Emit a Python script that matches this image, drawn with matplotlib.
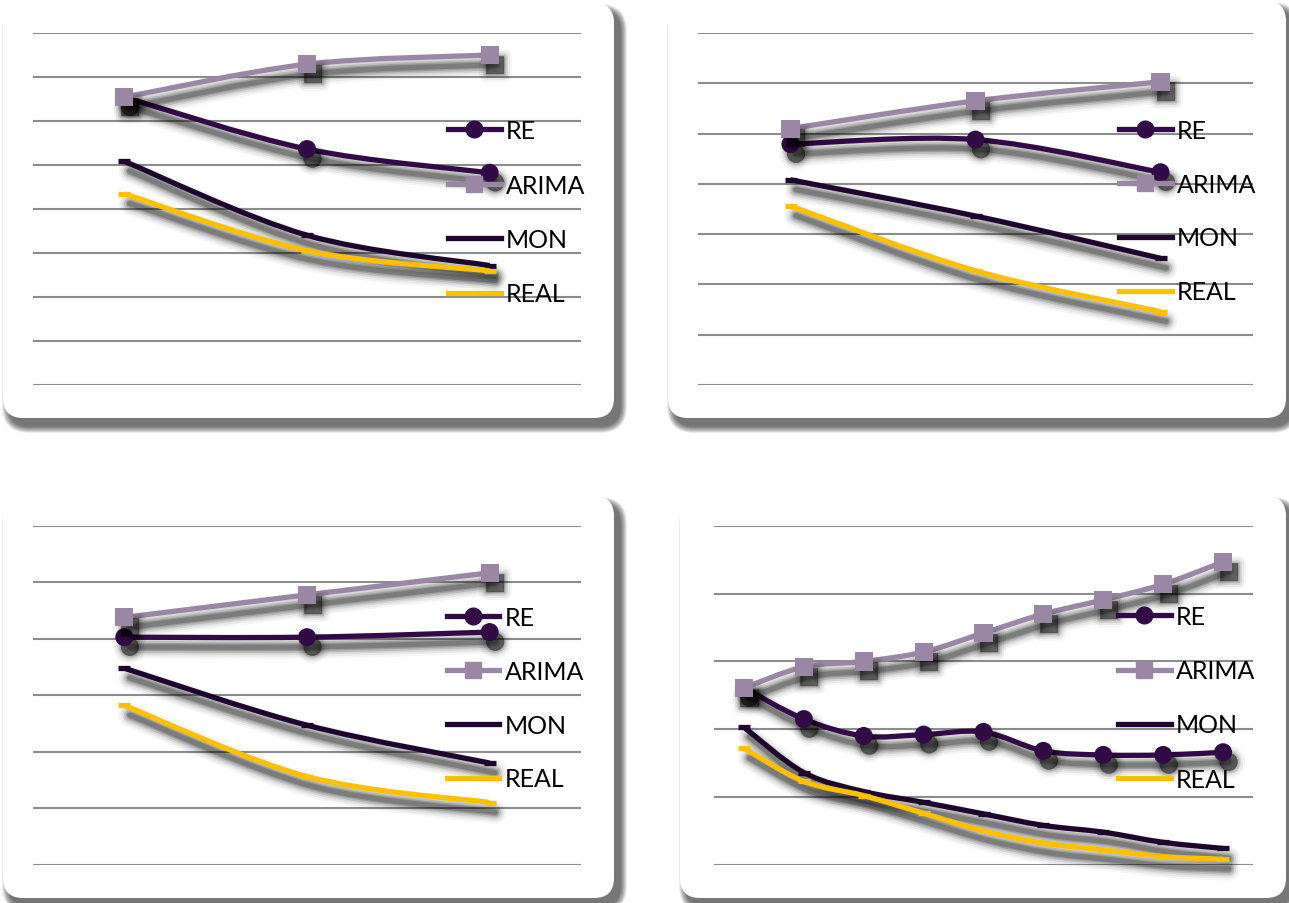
import numpy as np
import matplotlib
matplotlib.use('Agg')
import matplotlib.pyplot as plt
from matplotlib.path import Path
from matplotlib.patches import PathPatch, FancyBboxPatch
from matplotlib.lines import Line2D
import matplotlib.patheffects as pe

plt.rcParams['font.family'] = ['Lato', 'DejaVu Sans']

# ---------------- data ----------------
series_names = ['RE', 'ARIMA', 'MON', 'REAL']

p1_re    = [6.54, 5.36, 4.82]
p1_arima = [6.54, 7.29, 7.50]
p1_mon   = [5.08, 3.40, 2.71]
p1_real  = [4.34, 3.05, 2.59]

p2_re    = [4.79, 4.88, 4.23]
p2_arima = [5.10, 5.65, 6.03]
p2_mon   = [4.08, 3.36, 2.52]
p2_real  = [3.56, 2.27, 1.46]

p3_re    = [4.03, 4.03, 4.12]
p3_arima = [4.38, 4.78, 5.17]
p3_mon   = [3.48, 2.47, 1.80]
p3_real  = [2.82, 1.56, 1.10]

p4_re    = [2.61, 2.15, 1.90, 1.92, 1.96, 1.68, 1.62, 1.62, 1.66]
p4_arima = [2.61, 2.92, 3.00, 3.14, 3.42, 3.70, 3.91, 4.14, 4.47]
p4_mon   = [2.03, 1.36, 1.08, 0.92, 0.75, 0.58, 0.48, 0.33, 0.24]
p4_real  = [1.72, 1.23, 1.02, 0.76, 0.50, 0.32, 0.22, 0.12, 0.08]

panels_data = [
    (p1_re, p1_arima, p1_mon, p1_real),
    (p2_re, p2_arima, p2_mon, p2_real),
    (p3_re, p3_arima, p3_mon, p3_real),
    (p4_re, p4_arima, p4_mon, p4_real),
]
panel_ymax = [8, 7, 6, 5]

# ---------------- layout / style ----------------
W, H = 1289, 904
fig = plt.figure(figsize=(W / 100, H / 100), dpi=100)
fig.patch.set_facecolor('white')

# plot areas in pixels: (left, top, right, bottom)
plot_boxes = [(33, 34, 581, 385.7), (698, 34, 1253, 386),
              (33, 527, 581, 865.6), (714, 527, 1253, 865.7)]
# legend anchor (left x, top y) in pixels
legend_pos = [(448, 120), (1119, 120), (447, 607), (1118, 606)]
legend_spacing = [1.26, 1.23, 1.23, 1.25]
# white rounded panels
panel_boxes = [(3, 4, 614, 419), (668, 2, 1286, 419),
               (3, 497, 614, 899), (680, 497, 1286, 899)]

C_RE = '#320b46'
C_AR = '#9b87a5'
C_MON = '#1e052e'
C_REAL = '#ffc000'
colors = [C_RE, C_AR, C_MON, C_REAL]
markers = ['o', 's', None, None]
LW = 3.8

bg = fig.add_axes([0, 0, 1, 1], zorder=-10)
bg.set_xlim(0, W)
bg.set_ylim(H, 0)
bg.axis('off')
for (x0, y0, x1, y1) in panel_boxes:
    for k in range(14, 0, -1):
        bg.add_patch(FancyBboxPatch((x0 + 6 - k * 0.5, y0 + 8 - k * 0.5),
                                    (x1 - x0) + k, (y1 - y0) + k,
                                    boxstyle=f'round,pad=0,rounding_size={20 + k * 0.5}',
                                    fc='black', ec='none', alpha=0.05))
    bg.add_patch(FancyBboxPatch((x0, y0), x1 - x0, y1 - y0,
                                boxstyle='round,pad=0,rounding_size=20',
                                fc='white', ec='none'))


def smooth_path(xs, ys, t=1 / 6):
    pts = np.column_stack([xs, ys]).astype(float)
    n = len(pts)
    verts = [pts[0]]
    codes = [Path.MOVETO]
    for i in range(n - 1):
        p0 = pts[i - 1] if i > 0 else pts[i]
        p1 = pts[i]
        p2 = pts[i + 1]
        p3 = pts[i + 2] if i + 2 < n else pts[i + 1]
        verts += [p1 + (p2 - p0) * t, p2 - (p3 - p1) * t, p2]
        codes += [Path.CURVE4] * 3
    return Path(verts, codes)


SH_OFF = (4, -7)
BLUR = [(13, 0.035), (10, 0.05), (7, 0.08), (4.5, 0.12), (2, 0.16), (0, 0.2)]


def line_effects(lw):
    effs = []
    for extra, a in BLUR:
        effs.append(pe.SimpleLineShadow(offset=SH_OFF, shadow_color='black',
                                        alpha=a, rho=1, linewidth=lw + extra,
                                        capstyle='round'))
    effs.append(pe.Normal())
    return effs


def marker_effects():
    effs = []
    for extra, a in BLUR:
        effs.append(pe.SimplePatchShadow(offset=SH_OFF, shadow_rgbFace='black',
                                         alpha=a, linewidth=max(extra - 2, 0.01),
                                         foreground='black', joinstyle='round'))
    effs.append(pe.Normal())
    return effs


for pi, (data, ymax, pb, lp, lsp) in enumerate(zip(panels_data, panel_ymax, plot_boxes,
                                                    legend_pos, legend_spacing)):
    l, t, r, b = pb
    ax = fig.add_axes([l / W, 1 - b / H, (r - l) / W, (b - t) / H])
    ax.patch.set_alpha(0)
    n = len(data[0])
    xs = np.arange(n)
    ax.set_xlim(-0.5, n - 0.5)
    ax.set_ylim(0, ymax)
    ax.set_yticks(np.arange(0, ymax + 1))
    ax.set_xticks([])
    ax.grid(axis='y', color='#8c8c8c', lw=1.5)
    ax.set_axisbelow(True)
    ax.tick_params(left=False, bottom=False, labelleft=False, labelbottom=False)
    for s in ax.spines.values():
        s.set_visible(False)

    for si, (ys, c, m) in enumerate(zip(data, colors, markers)):
        z = 3 + si
        patch = PathPatch(smooth_path(xs, ys), fill=False, ec=c, lw=LW,
                          capstyle='butt', joinstyle='round', zorder=z, clip_on=False)
        patch.set_path_effects(line_effects(LW))
        ax.add_patch(patch)
        if m is not None:
            ln, = ax.plot(xs, ys, ls='none', marker=m, ms=13, mfc=c, mec=c, mew=0,
                          zorder=z + 0.5, clip_on=False)
            ln.set_path_effects(marker_effects())
        else:
            ax.plot(xs, ys, ls='none', marker='_', ms=9, mec=c, mew=3.8,
                    zorder=z + 0.5, clip_on=False)

    handles = [Line2D([], [], color=C_RE, lw=LW, marker='o', ms=12),
               Line2D([], [], color=C_AR, lw=LW, marker='s', ms=12),
               Line2D([], [], color=C_MON, lw=LW),
               Line2D([], [], color=C_REAL, lw=LW)]
    leg = ax.legend(handles, series_names, loc='upper left',
                    bbox_to_anchor=(lp[0] / W, 1 - lp[1] / H),
                    bbox_transform=fig.transFigure, frameon=False,
                    borderpad=0, borderaxespad=0, handlelength=2.1,
                    handletextpad=0.22, labelspacing=lsp, fontsize=18,
                    numpoints=1)
    leg.set_zorder(20)

fig.savefig('out.png', dpi=100, facecolor='white')
